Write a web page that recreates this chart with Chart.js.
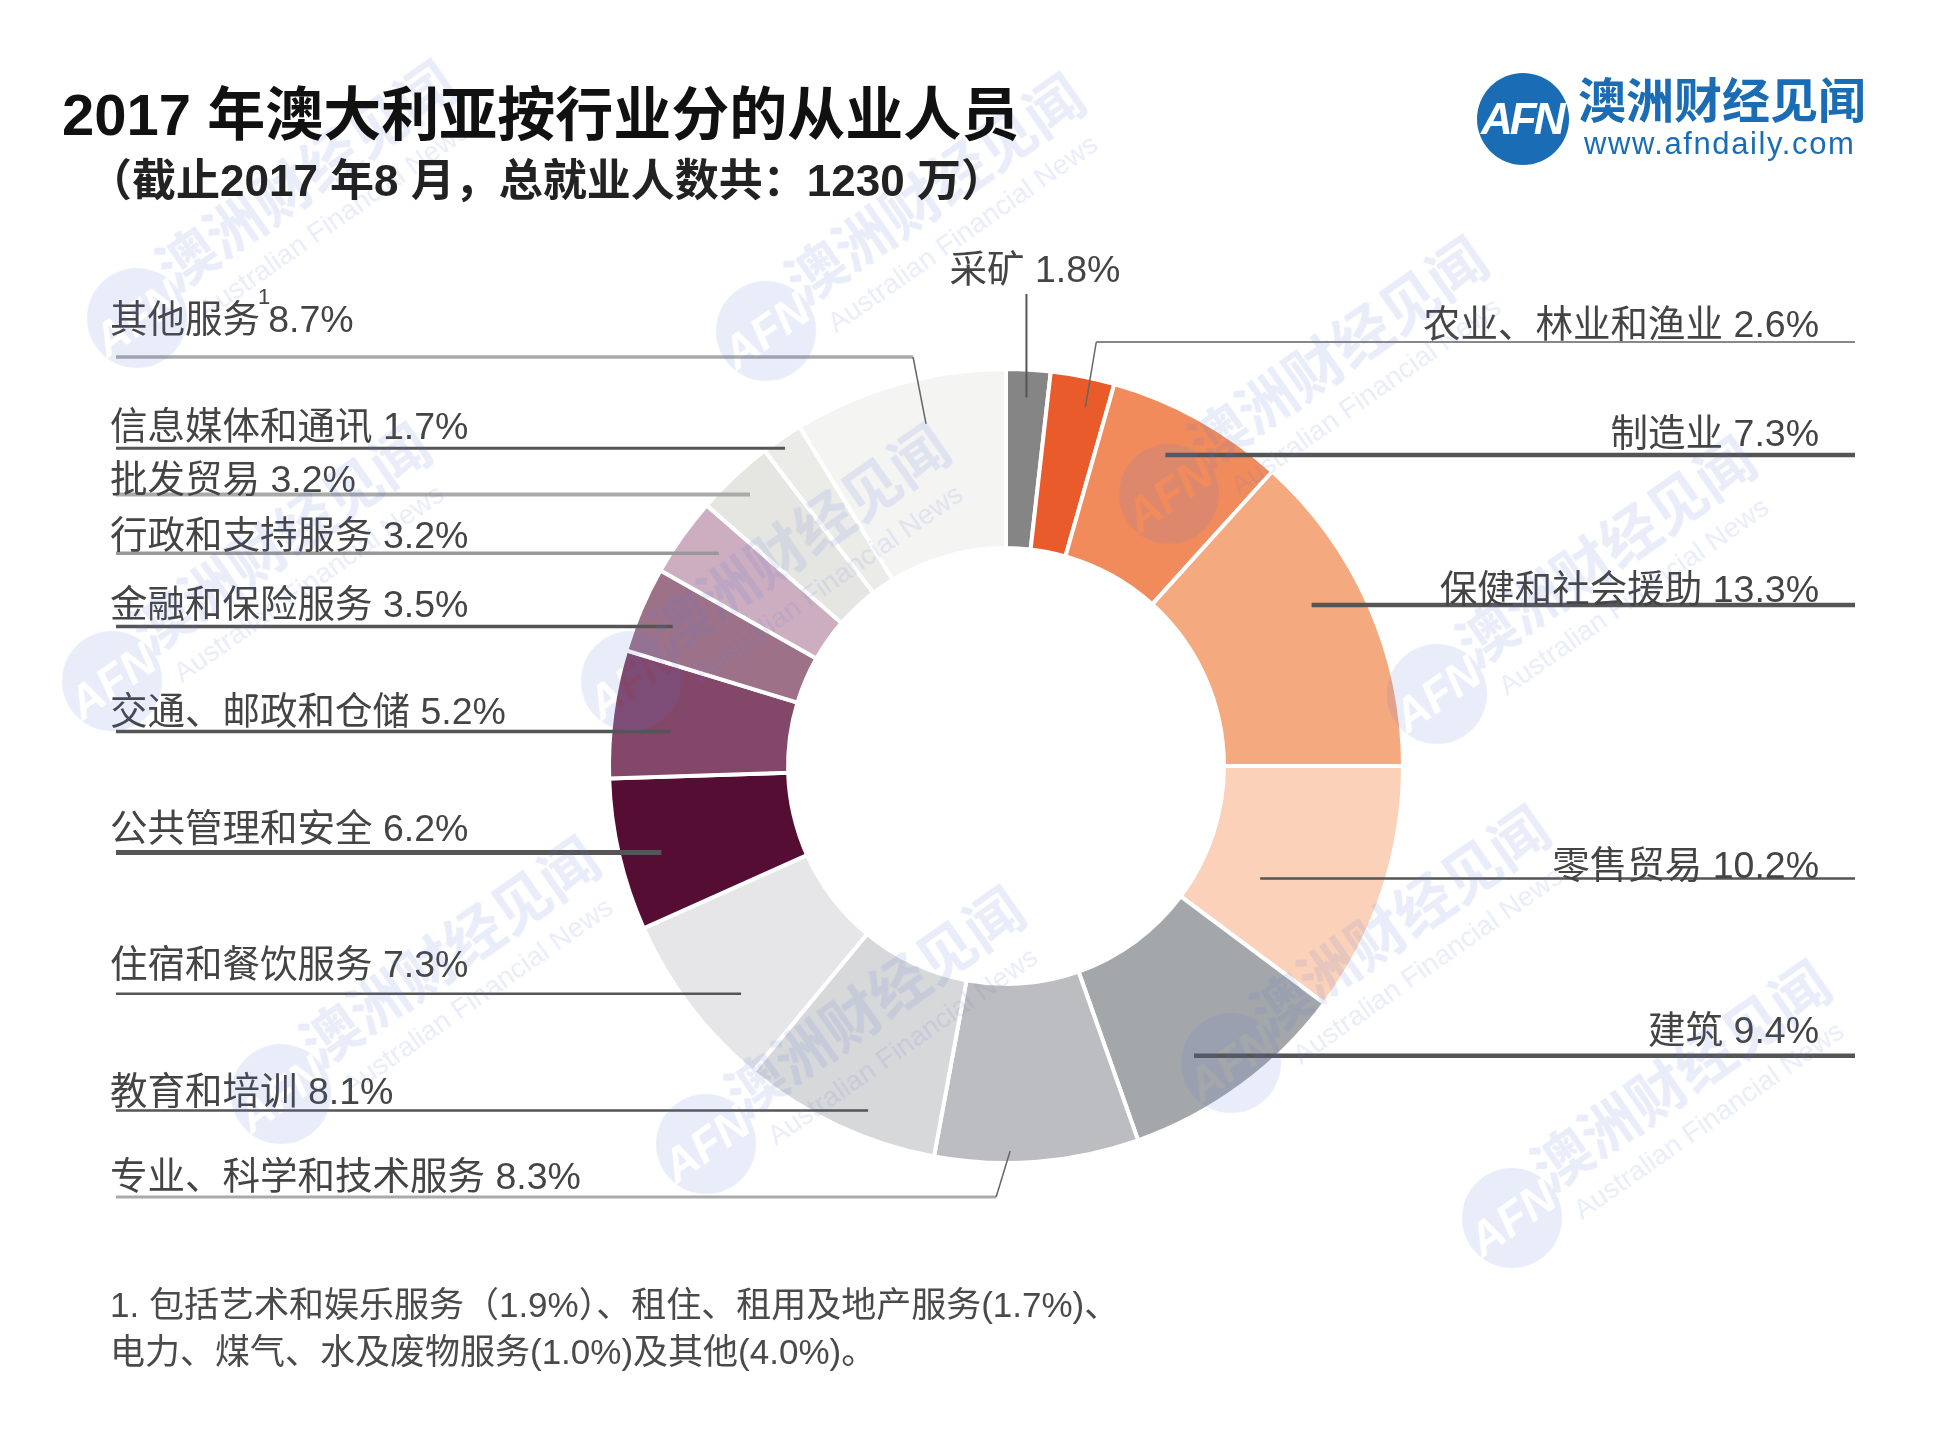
<!DOCTYPE html>
<html>
<head>
<meta charset="utf-8">
<title>2017 年澳大利亚按行业分的从业人员</title>
<script src="https://cdn.jsdelivr.net/npm/chart.js@4.4.0/dist/chart.umd.min.js"></script>
<style>
  html, body { margin: 0; padding: 0; background: #fff; }
  #wrap { position: relative; width: 1959px; height: 1440px; overflow: hidden; }
  #c { position: absolute; left: 0; top: 0; }
  .t { position: absolute; white-space: nowrap; font-family: "Liberation Sans", "Noto Sans CJK SC", sans-serif; }
  #title { left: 62px; top: 86px; font-size: 58px; line-height: 58px; font-weight: bold; color: #111; }
  #sub { left: 88px; top: 159px; font-size: 44px; line-height: 44px; font-weight: bold; color: #222; }
  .note { left: 110px; font-size: 35px; line-height: 35px; color: #4a4a4a; }
  #logo { position: absolute; left: 1477px; top: 73px; width: 92px; height: 92px; border-radius: 50%; background: #1a6db5; }
  #logoTxt { left: 1481px; top: 97px; font-size: 44px; line-height: 44px; font-weight: bold; color: #fff; letter-spacing: -3px; font-style: italic; }
  #brand { left: 1578px; top: 78px; font-size: 48px; line-height: 48px; font-weight: bold; color: #1a6db5; }
  #url { left: 1584px; top: 128px; font-size: 31px; line-height: 31px; color: #1a6db5; letter-spacing: 1.6px; }
</style>
</head>
<body>
<div id="wrap">
  <canvas id="c" width="1959" height="1440"></canvas>
  <div class="t" id="title">2017 年澳大利亚按行业分的从业人员</div>
  <div class="t" id="sub">（截止2017 年8 月，总就业人数共：1230 万）</div>
  <div id="logo"></div>
  <div class="t" id="logoTxt">AFN</div>
  <div class="t" id="brand">澳洲财经见闻</div>
  <div class="t" id="url">www.afndaily.com</div>
  <div class="t note" style="top:1287px">1. 包括艺术和娱乐服务（1.9%）、租住、租用及地产服务(1.7%)、</div>
  <div class="t note" style="top:1334px">电力、煤气、水及废物服务(1.0%)及其他(4.0%)。</div>
</div>
<script>
// ---------------------------------
// - Data (share of employed, %) -
// ---------------------------------
const categories = ['采矿', '农业、林业和渔业', '制造业', '保健和社会援助', '零售贸易', '建筑',
  '专业、科学和技术服务', '教育和培训', '住宿和餐饮服务', '公共管理和安全', '交通、邮政和仓储',
  '金融和保险服务', '行政和支持服务', '批发贸易', '信息媒体和通讯', '其他服务'];
const shares = [1.8, 2.6, 7.3, 13.3, 10.2, 9.4, 8.3, 8.1, 7.3, 6.2, 5.2, 3.5, 3.2, 3.2, 1.7, 8.7];
const footnoteMarks = ['', '', '', '', '', '', '', '', '', '', '', '', '', '', '', '1'];

// slice colours, same order as categories
const sliceColors = ['#858585', '#e95b2a', '#f18b5c', '#f4a97f', '#fbd2b9', '#a4a7aa',
  '#bcbdc0', '#d7d8da', '#e6e6e8', '#560d33', '#83476a', '#9d7289', '#cdaec0',
  '#e5e6e1', '#ebebe8', '#f4f4f2'];

// label placement: side, text centre y, where the leader leaves the slice
// f = fraction across the slice angle, rf = fraction of the outer radius
const labelLayout = [
  { side: 'top', x: 1035, y: 272, f: 0.49, rf: 0.93, topY: 294, color: '#555', w: 2 },
  { side: 'R', y: 327, f: 0.64, rf: 0.925, elbowY: 342, elbowDx: 11, color: '#888', w: 2 },
  { side: 'R', y: 436, f: 0.43, rf: 0.88, color: '#555', w: 4.5 },
  { side: 'R', y: 592, f: 0.42, rf: 0.87, color: '#555', w: 4.5 },
  { side: 'R', y: 868, f: 0.65, rf: 0.70, color: '#555', w: 2.5 },
  { side: 'R', y: 1033, f: 0.60, rf: 0.87, color: '#555', w: 4.5 },
  { side: 'L', y: 1179, f: 0.63, rf: 0.97, elbowY: 1197, elbowDx: -14, color: '#aaa', w: 3 },
  { side: 'L', y: 1094, f: 0.39, rf: 0.935, color: '#555', w: 2.5 },
  { side: 'L', y: 967, f: 0.37, rf: 0.88, color: '#555', w: 2.5 },
  { side: 'L', y: 831, f: 0.45, rf: 0.895, color: '#555', w: 5 },
  { side: 'L', y: 714, f: 0.41, rf: 0.85, color: '#555', w: 3.5 },
  { side: 'L', y: 607, f: 0.46, rf: 0.91, color: '#555', w: 3.5 },
  { side: 'L', y: 538, f: 0.61, rf: 0.90, color: '#999', w: 3.5 },
  { side: 'L', y: 482, f: 0.49, rf: 0.94, color: '#aaa', w: 4 },
  { side: 'L', y: 429, f: 0.43, rf: 0.975, color: '#555', w: 3 },
  { side: 'L', y: 322, f: 0.58, rf: 0.885, elbowY: 357, elbowDx: -13, color: '#aaa', w: 3.5 }
];

// watermark stamps (centre of the round logo)
const watermarks = [[137, 318], [766, 331], [1169, 494], [1437, 694], [112, 681],
  [631, 681], [1231, 1063], [706, 1144], [281, 1094], [1512, 1218]];

const FONT = '"Liberation Sans", "Noto Sans CJK SC", sans-serif';
const TEXT_L = 110, TEXT_R = 1819, LINE_L = 116, LINE_R = 1855;

// leader lines and labels
const leaderLabels = {
  id: 'leaderLabels',
  afterDatasetsDraw(chart) {
    const ctx = chart.ctx;
    const arcs = chart.getDatasetMeta(0).data;
    ctx.save();
    ctx.lineCap = 'butt';
    arcs.forEach((arc, i) => {
      const L = labelLayout[i];
      const p = arc.getProps(['x', 'y', 'startAngle', 'endAngle', 'outerRadius'], true);
      const a = p.startAngle + L.f * (p.endAngle - p.startAngle);
      const ax = p.x + Math.cos(a) * L.rf * p.outerRadius;
      const ay = p.y + Math.sin(a) * L.rf * p.outerRadius;

      ctx.strokeStyle = L.color;
      ctx.lineWidth = L.w;
      ctx.beginPath();
      if (L.side === 'top') {
        ctx.moveTo(ax, L.topY);
        ctx.lineTo(ax, ay);
        ctx.stroke();
      } else {
        const edge = L.side === 'R' ? LINE_R : LINE_L;
        if (L.elbowY !== undefined) {
          const ex = ax + L.elbowDx;
          ctx.moveTo(edge, L.elbowY);
          ctx.lineTo(ex, L.elbowY);
          ctx.stroke();
          ctx.beginPath();
          ctx.strokeStyle = '#666';
          ctx.lineWidth = 1.5;
          ctx.moveTo(ex, L.elbowY);
          ctx.lineTo(ax, ay);
          ctx.stroke();
        } else {
          ctx.moveTo(edge, ay);
          ctx.lineTo(ax, ay);
          ctx.stroke();
        }
      }

      // label text
      ctx.fillStyle = '#444';
      ctx.textBaseline = 'middle';
      ctx.font = '37.5px ' + FONT;
      const val = shares[i].toFixed(1) + '%';
      if (L.side === 'top') {
        ctx.textAlign = 'center';
        ctx.fillText(categories[i] + ' ' + val, L.x, L.y);
      } else if (L.side === 'R') {
        ctx.textAlign = 'right';
        ctx.fillText(categories[i] + ' ' + val, TEXT_R, L.y);
      } else if (footnoteMarks[i]) {
        ctx.textAlign = 'left';
        ctx.fillText(categories[i], TEXT_L, L.y);
        let x = TEXT_L + ctx.measureText(categories[i]).width;
        ctx.font = '22px ' + FONT;
        ctx.fillText(footnoteMarks[i], x - 2, L.y - 24);
        x += ctx.measureText(footnoteMarks[i]).width - 4;
        ctx.font = '37.5px ' + FONT;
        ctx.fillText(val, x, L.y);
      } else {
        ctx.textAlign = 'left';
        ctx.fillText(categories[i] + ' ' + val, TEXT_L, L.y);
      }
    });
    ctx.restore();
  }
};

// one watermark stamp, drawn once off screen: round logo with the letters cut out, then the name
function makeStamp() {
  const s = document.createElement('canvas');
  s.width = 520; s.height = 160;
  const g = s.getContext('2d');
  g.translate(60, 90);
  g.fillStyle = 'rgba(80, 110, 210, 1)';
  g.beginPath();
  g.arc(0, 0, 50, 0, Math.PI * 2);
  g.fill();
  g.globalCompositeOperation = 'destination-out';
  g.font = 'italic bold 46px ' + FONT;
  g.textAlign = 'center';
  g.textBaseline = 'middle';
  g.fillText('AFN', 0, 3);
  g.globalCompositeOperation = 'source-over';
  g.textAlign = 'left';
  g.textBaseline = 'alphabetic';
  g.font = 'bold 58px ' + FONT;
  g.fillText('澳洲财经见闻', 46, 2);
  g.font = '28px ' + FONT;
  g.fillText('Australian Financial News', 56, 42);
  return s;
}

const stamps = {
  id: 'stamps',
  afterDraw(chart) {
    const ctx = chart.ctx;
    const stamp = makeStamp();
    ctx.save();
    ctx.globalAlpha = 0.13;
    watermarks.forEach(([x, y]) => {
      ctx.save();
      ctx.translate(x, y);
      ctx.rotate(-35 * Math.PI / 180);
      ctx.drawImage(stamp, -60, -90);
      ctx.restore();
    });
    ctx.restore();
  }
};

new Chart(document.getElementById('c'), {
  type: 'doughnut',
  data: {
    labels: categories,
    datasets: [{
      data: shares,
      backgroundColor: sliceColors,
      borderColor: '#ffffff',
      borderWidth: 4,
      hoverOffset: 0
    }]
  },
  options: {
    responsive: false,
    devicePixelRatio: 1,
    animation: false,
    cutout: '54.9%',
    layout: { padding: { left: 607, right: 554, top: 367, bottom: 275 } },
    plugins: {
      legend: { display: false },
      tooltip: { enabled: false }
    }
  },
  plugins: [leaderLabels, stamps]
});
</script>
</body>
</html>
